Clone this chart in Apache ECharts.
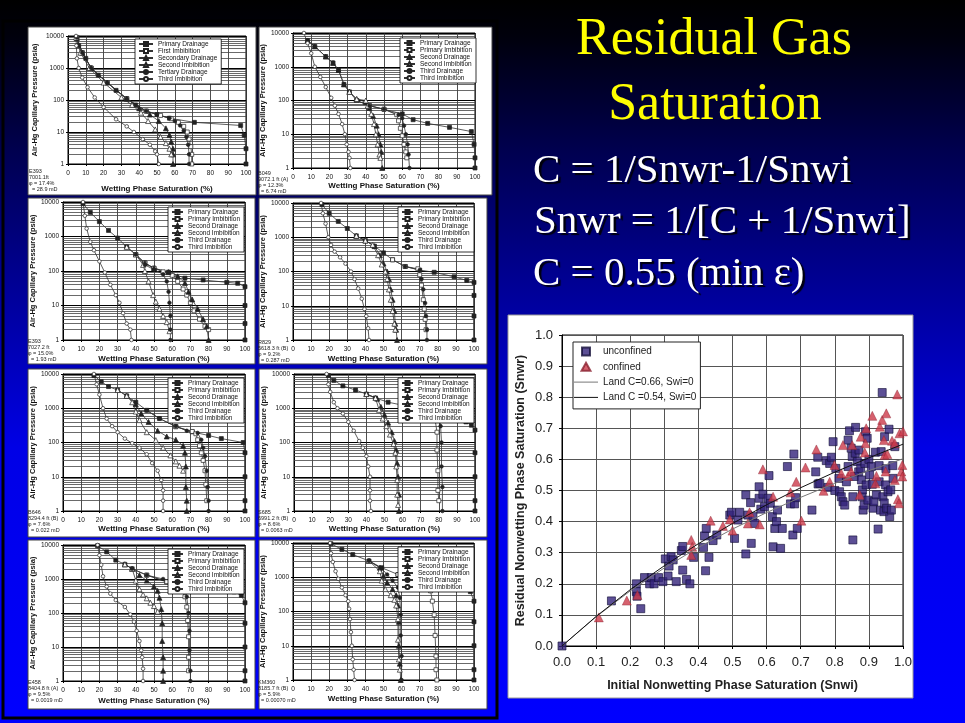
<!DOCTYPE html>
<html>
<head>
<meta charset="utf-8">
<title>Residual Gas Saturation</title>
<script src="https://cdn.jsdelivr.net/npm/echarts/dist/echarts.min.js"></script>
<style>
  html, body { margin: 0; padding: 0; }
  #slide {
    width: 965px; height: 723px;
    background: linear-gradient(to bottom, #000000 0%, #00000c 5%, #000050 21%, #00008c 37%, #0000e6 62%, #0000ff 100%);
  }
</style>
</head>
<body>
<div id="slide"></div>
<script>
// capillary pressure curves: [wetting phase saturation %, Pc psia]
// E393 7001.1 ft
const c1PD = [[5,9000],[6,5000],[8,3000],[10,2000],[13,1000],[17,600],[22,350],[27,200],[33,110],[38,70],[44,45],[50,35],[57,27],[71,20],[97,16],[99,8],[100,3],[100,1]];
const c1PI = [[5,9000],[8,3000],[13,1000],[22,350],[33,110],[44,45],[52,33],[58,26],[62,20],[65,15],[67,10],[68,6],[69,3.5],[69.5,2],[69.5,1]];
const c1SD = [[5,8500],[8,3000],[13,1000],[22,350],[33,110],[40,55],[46,35],[51,22],[55,13],[57,8],[58,5],[59,3],[59,2],[59,1]];
const c1SI = [[4.5,9000],[7,3000],[12,1000],[20,350],[30,120],[36,70],[41,40],[45,22],[49,12],[52,7],[55,4.5],[57,3],[58,2]];
const c1TD = [[5,9000],[8,3000],[13,1000],[22,350],[33,110],[44,45],[50,35],[57,27],[60,22],[63,16],[65,11],[66.5,7],[67.5,4],[68,2],[68,1]];
const c1TI = [[4.5,10000],[4.7,5000],[5,2000],[6,1000],[8,500],[11,250],[15,120],[20,60],[27,25],[33,15],[37,10],[42,6],[46,4],[49,2.5],[50,2],[51,1]];
// B049 9072.1 ft
const c2PD = [[8,6000],[12,4000],[18,2000],[22,1300],[25,800],[28,300],[31,180],[35,100],[42,70],[50,55],[60,40],[66,27],[74,21],[86,16],[98,12],[99.5,5],[100,2],[100,1]];
const c2PI = [[35,100],[42,70],[50,55],[57,38],[58,25],[59,15],[60,9],[61,5],[62,3],[62.5,2]];
const c2SD = [[8,6000],[12,4000],[18,2000],[22,1300],[25,800],[28,300],[31,180],[35,110],[40,90],[42,60],[44,35],[46,18],[47,10],[48,5],[48.5,3],[49,1]];
const c2SI = [[31,180],[35,110],[40,100],[41,70],[43,40],[44.5,20],[45.5,10],[46.5,5],[47.5,2.5],[48,2]];
const c2TD = [[42,70],[50,55],[58,38],[60,30],[61,18],[62,10],[63,5],[63.5,2.5],[64,1]];
const c2TI = [[6,10000],[8,5000],[10,2500],[12,1000],[15,500],[18,250],[21,120],[23,70],[25,40],[27,20],[28.5,10],[29.5,5],[30.5,3],[31,2],[31.5,1]];
// E393 7027.2 ft
const c3PD = [[11,9000],[15,5000],[20,2700],[25,1500],[30,900],[35,500],[40,300],[45,170],[50,120],[58,93],[67,62],[77,55],[90,47],[96,44],[100,35],[100,10],[100,3],[100,1]];
const c3PI = [[40,300],[45,170],[50,120],[55,95],[60,75],[63,50],[66,30],[68,20],[70,12],[72,7],[75,4],[78,2.5],[80,2]];
const c3SD = [[45,170],[50,120],[58,93],[63,70],[67,45],[69,25],[71,15],[74,8],[77,4],[79,2.5],[80,1]];
const c3SI = [[35,500],[40,300],[44,150],[45,100],[47,50],[49.5,20],[51,13],[53,8],[55,5],[57,3.3],[58.5,1.8]];
const c3TD = [[40,300],[45,150],[50,110],[55,80],[57,50],[58,25],[58.5,12],[59,5],[59,2],[59,1]];
const c3TI = [[11,10000],[12,4000],[13,1700],[15,700],[17,400],[20,190],[23,90],[26,40],[29,20],[31,12],[33,6],[35,3],[37,2],[37.6,1]];
// R829 5618.3 ft
const c4PD = [[16,9000],[20,5000],[25,2900],[30,1800],[35,1100],[40,800],[45,550],[50,350],[55,220],[62,140],[70,110],[78,95],[89,70],[96,55],[100,48],[100,20],[100,5],[100,1]];
const c4PI = [[55,220],[62,140],[69,120],[70,80],[71,40],[72,15],[72.5,8],[73,4],[73.5,2]];
const c4SD = [[35,1100],[40,800],[45,550],[48,300],[50,170],[52,100],[53,60],[54,30],[55,15],[56,7],[56.5,3],[57,2],[57.5,1]];
const c4SI = [[35,1100],[40,800],[44,600],[47,300],[49,160],[51,100],[52,60],[53,30],[54,15],[55,7],[56,3],[56.5,2]];
const c4TD = [[62,140],[70,110],[71,60],[72,30],[73,12],[73.5,5],[74,2],[74,1]];
const c4TI = [[15.5,10000],[16.5,5000],[18,2500],[19.5,1000],[21,600],[23,380],[26,260],[29,170],[32,100],[34,60],[36,32],[38,16],[39.5,8],[40.5,5],[41.5,2.2],[42,1]];
// B646 8294.4 ft
const c5PD = [[17,9000],[21,6000],[25,4300],[30,3400],[35,2300],[40,1500],[46,870],[53,500],[62,290],[71,205],[80,160],[87,130],[99,100],[100,50],[100,10],[100,2],[100,1]];
const c5PI = [[62,290],[71,210],[73,180],[74,120],[75,80],[76,50],[77,30],[78,15],[78.5,6],[79,2]];
const c5SD = [[35,2300],[40,1300],[43,700],[47,400],[52,220],[57,150],[62,120],[66,80],[67,50],[67.5,20],[67.5,5],[68,2],[68,1]];
const c5SI = [[30,3400],[35,2300],[38,1500],[40,800],[42,450],[46,200],[51,117],[55,70],[59,42],[62,28],[64,21],[66,15]];
const c5TD = [[46,870],[53,500],[62,300],[68,220],[74,190],[76,120],[77,70],[78,40],[79,15],[79.5,5],[80,2],[80,1]];
const c5TI = [[17,10000],[18.5,5000],[20,2500],[22,1000],[24,500],[27,300],[30,200],[34,130],[38,95],[42,70],[46,45],[49,25],[52,15],[54,8],[55,4],[55,2],[55,1]];
// S685 6991.2 ft
const c6PD = [[19,9000],[22,6500],[27,4500],[34,3400],[40,2600],[45,2000],[52,1500],[61,1200],[70,900],[80,650],[89,500],[95,400],[98,320],[100,230],[100,50],[100,10],[100,2],[100,1]];
const c6PI = [[61,1200],[70,900],[76,700],[78,450],[79,200],[79,60],[79.5,15],[79.5,4],[80,2]];
const c6SD = [[40,2600],[46,1900],[48,1100],[50,650],[52,380],[54,200],[55.5,110],[56.5,60],[57,25],[57.5,10],[58,3],[58,1]];
const c6SI = [[40,2600],[45,2000],[47,900],[49,500],[51,300],[53,170],[55,90],[56,50],[56.5,20],[57,8],[57,3],[57.5,1.5]];
const c6TD = [[70,900],[80,650],[81,300],[81.5,100],[81.5,20],[82,5],[82,1]];
const c6TI = [[18,10000],[19,5000],[20,3000],[22,1500],[24,1000],[27,700],[30,400],[33,220],[36,110],[38,70],[40,40],[41,20],[42,10],[42,4],[42,2],[42.5,1]];
// E458 8404.8 ft
const c7PD = [[19,9500],[24,6300],[29,3600],[34,2700],[38,2000],[46,1300],[57,830],[64,660],[73,530],[83,470],[94,420],[98,330],[100,200],[100,50],[100,10],[100,2],[100,1]];
const c7PI = [[46,1300],[57,830],[62,700],[65,500],[67,300],[68,150],[68.5,60],[69,20],[69,5],[69,2]];
const c7SD = [[34,2700],[38,2000],[42,1300],[46,900],[50,600],[52,450],[53,280],[54,130],[54.5,50],[54.5,15],[55,5],[55,2],[55,1]];
const c7SI = [[34,2700],[38,2000],[40,900],[42,500],[44,350],[46,270],[48,200],[50,160],[52,110]];
const c7TD = [[38,2000],[46,1300],[55,1000],[62,800],[66,600],[68,300],[69,100],[69.5,30],[69.5,8],[70,2],[70,1]];
const c7TI = [[19,10000],[20,5000],[21,2600],[22,1200],[24,600],[26,370],[29,240],[34,150],[37,90],[39,55],[40.5,30],[42,15],[43,8],[43.5,5],[44,2.3],[44,1]];
// KM360 8185.7 ft
const c8PD = [[21,9500],[27,6500],[33,4600],[42,3000],[49,1900],[58,1200],[71,850],[80,670],[91,480],[98,380],[100,200],[100,50],[100,10],[100,2],[100,1]];
const c8PI = [[58,1200],[71,850],[74,650],[76,400],[77,200],[78,80],[78.5,20],[79,5],[79,2],[79.5,1]];
const c8SD = [[42,3000],[48,1900],[50,1100],[52,700],[55,450],[57,300],[58,150],[58.5,50],[58.5,10],[59,3],[59.5,1]];
const c8SI = [[42,3000],[48,1500],[49,800],[51,450],[54,300],[56,220],[57,150],[58,60],[58,15],[58.5,4],[59,2]];
const c8TD = [[42,3000],[49,1800],[52,1200],[55,800],[58,500],[59,250],[59.5,80],[59.5,20],[60,5],[60,1]];
const c8TI = [[20.5,10000],[21,5000],[22,2800],[23.5,1500],[25,900],[27,500],[29,300],[30.5,200],[31,120],[31.5,60],[32,25],[32.5,10],[33,4],[33.5,2],[34,1]];

// minor gridline levels on the log pressure axis
const minorLevels = [2,3,4,5,6,7,8,9,20,30,40,50,60,70,80,90,200,300,400,500,600,700,800,900,2000,3000,4000,5000,6000,7000,8000,9000];

const sampleInfo = [
  ['E393', '7001.1ft', 'φ = 17.4%', '  = 28.9 mD'],
  ['B049', '9072.1 ft (A)', 'φ = 12.3%', '  = 6.74 mD'],
  ['E393', '7027.2 ft', 'φ = 15.0%', '  = 1.93 mD'],
  ['R829', '5618.3 ft (B)', 'φ = 9.2%', '  = 0.287 mD'],
  ['B646', '8294.4 ft (B)', 'φ = 7.6%', '  = 0.022 mD'],
  ['S685', '6991.2 ft (B)', 'φ = 8.6%', '  = 0.0063 mD'],
  ['E458', '8404.8 ft (A)', 'φ = 9.5%', '  = 0.0019 mD'],
  ['KM360', '8185.7 ft (B)', 'φ = 5.9%', '  = 0.00070 mD']
];
const namesFirst = ['Primary Drainage', 'First Imbibition', 'Secondary Drainage', 'Second Imbibition', 'Tertiary Drainage', 'Third Imbibition'];
const namesOther = ['Primary Drainage', 'Primary Imbibition', 'Second Drainage', 'Second Imbibition', 'Third Drainage', 'Third Imbibition'];

// residual vs initial nonwetting saturation
const unconfined = [[0,0],[0.145,0.145],[0.218,0.2],[0.218,0.175],[0.22,0.16],[0.231,0.12],[0.242,0.22],[0.257,0.2],[0.262,0.22],[0.27,0.2],[0.283,0.22],[0.296,0.207],[0.303,0.28],[0.311,0.225],[0.314,0.257],[0.32,0.287],[0.326,0.277],[0.335,0.207],[0.35,0.307],[0.354,0.32],[0.354,0.244],[0.365,0.214],[0.375,0.2],[0.386,0.285],[0.415,0.317],[0.418,0.354],[0.423,0.378],[0.421,0.242],[0.431,0.285],[0.443,0.339],[0.454,0.357],[0.492,0.421],[0.497,0.43],[0.506,0.346],[0.516,0.405],[0.521,0.43],[0.539,0.296],[0.539,0.486],[0.545,0.421],[0.553,0.461],[0.555,0.33],[0.56,0.416],[0.565,0.394],[0.578,0.512],[0.578,0.475],[0.583,0.44],[0.589,0.488],[0.594,0.448],[0.604,0.475],[0.607,0.548],[0.611,0.459],[0.617,0.416],[0.619,0.319],[0.624,0.378],[0.629,0.4],[0.632,0.437],[0.641,0.314],[0.646,0.378],[0.661,0.577],[0.67,0.457],[0.677,0.357],[0.68,0.617],[0.682,0.457],[0.685,0.477],[0.69,0.378],[0.733,0.437],[0.744,0.56],[0.75,0.607],[0.751,0.521],[0.756,0.523],[0.775,0.596],[0.78,0.51],[0.785,0.587],[0.79,0.607],[0.795,0.657],[0.8,0.5],[0.803,0.571],[0.812,0.539],[0.814,0.496],[0.819,0.48],[0.824,0.464],[0.829,0.453],[0.834,0.528],[0.839,0.577],[0.839,0.662],[0.843,0.692],[0.848,0.636],[0.851,0.609],[0.853,0.341],[0.853,0.48],[0.858,0.545],[0.86,0.62],[0.861,0.703],[0.866,0.593],[0.87,0.56],[0.871,0.63],[0.876,0.571],[0.878,0.534],[0.88,0.48],[0.881,0.502],[0.883,0.437],[0.886,0.453],[0.888,0.587],[0.89,0.689],[0.892,0.518],[0.895,0.668],[0.897,0.469],[0.9,0.6],[0.902,0.55],[0.907,0.577],[0.91,0.52],[0.912,0.443],[0.915,0.464],[0.919,0.623],[0.922,0.486],[0.927,0.376],[0.93,0.528],[0.93,0.58],[0.934,0.437],[0.936,0.625],[0.939,0.815],[0.941,0.48],[0.944,0.432],[0.945,0.46],[0.946,0.673],[0.949,0.518],[0.95,0.57],[0.952,0.443],[0.956,0.496],[0.959,0.697],[0.961,0.416],[0.964,0.502],[0.966,0.437],[0.97,0.58],[0.971,0.539],[0.976,0.641]];
const confined = [[0.108,0.092],[0.19,0.146],[0.221,0.164],[0.379,0.341],[0.382,0.319],[0.379,0.293],[0.436,0.403],[0.472,0.386],[0.492,0.407],[0.5,0.371],[0.545,0.394],[0.55,0.43],[0.58,0.391],[0.589,0.568],[0.619,0.48],[0.67,0.494],[0.687,0.528],[0.702,0.403],[0.714,0.574],[0.746,0.632],[0.767,0.499],[0.785,0.528],[0.799,0.582],[0.819,0.555],[0.824,0.646],[0.839,0.547],[0.848,0.561],[0.851,0.646],[0.873,0.486],[0.876,0.673],[0.888,0.622],[0.89,0.652],[0.892,0.7],[0.91,0.74],[0.919,0.523],[0.922,0.547],[0.932,0.705],[0.939,0.727],[0.944,0.662],[0.946,0.614],[0.951,0.748],[0.954,0.617],[0.949,0.561],[0.968,0.66],[0.976,0.534],[0.976,0.652],[0.983,0.809],[0.985,0.472],[0.988,0.459],[0.99,0.684],[0.995,0.561],[0.998,0.582],[0.998,0.545],[1.0,0.69]];
const snwi = [0, 0.1, 0.2, 0.3, 0.4, 0.5, 0.6, 0.7, 0.8, 0.9, 1.0];
const landC066 = [0, 0.094, 0.177, 0.251, 0.317, 0.376, 0.429, 0.478, 0.523, 0.564, 0.602];
const landC054 = [0, 0.095, 0.181, 0.258, 0.329, 0.394, 0.454, 0.509, 0.559, 0.605, 0.649];

const smallCurves = [
  [c1PD, c1PI, c1SD, c1SI, c1TD, c1TI],
  [c2PD, c2PI, c2SD, c2SI, c2TD, c2TI],
  [c3PD, c3PI, c3SD, c3SI, c3TD, c3TI],
  [c4PD, c4PI, c4SD, c4SI, c4TD, c4TI],
  [c5PD, c5PI, c5SD, c5SI, c5TD, c5TI],
  [c6PD, c6PI, c6SD, c6SI, c6TD, c6TI],
  [c7PD, c7PI, c7SD, c7SI, c7TD, c7TI],
  [c8PD, c8PI, c8SD, c8SI, c8TD, c8TI]
];

// layout of the small panels: plot area [left, top, right, bottom]
const plots = [[68,36,246,164],[293,33,475,168],[63,202,245,340],[293,203,474,340],[63,374,245,511],[294,374,475,511],[63,545,245,681],[293,543,474,680]];
const panels = [[28,27,256,195],[259,27,492,195],[28,198,255,364],[259,198,487,364],[28,369,255,537],[259,369,487,537],[28,540,255,709],[259,540,487,709]];
const legendPos = [[135,39],[400,38],[168,207],[398,207],[168,378],[398,378],[168,549],[398,547]];
const infoPos = [[29,168],[258,170],[28,338],[258,339],[28,509],[258,509],[28,679],[258,679]];
const yNameGap = [29,22,26,21,26,23,26,24];
const xNameGap = [21,13,15,15,14,14,16,15];

const markers = [
  {symbol: 'rect', size: 4, fill: '#222'},
  {symbol: 'rect', size: 4, fill: '#fff'},
  {symbol: 'triangle', size: 5, fill: '#222'},
  {symbol: 'triangle', size: 5, fill: '#fff'},
  {symbol: 'circle', size: 3.6, fill: '#222'},
  {symbol: 'circle', size: 3.6, fill: '#fff'}
];

const font = 'Liberation Sans';
const grid = [], xAxis = [], yAxis = [], legend = [], series = [], graphic = [];

plots.forEach(function (p, i) {
  grid.push({
    left: p[0], top: p[1], width: p[2] - p[0], height: p[3] - p[1],
    show: true, backgroundColor: '#fff', borderColor: '#000', borderWidth: 1
  });
  xAxis.push({
    type: 'value', gridIndex: i, min: 0, max: 100, interval: 10,
    name: 'Wetting Phase Saturation (%)', nameLocation: 'middle', nameGap: xNameGap[i],
    nameTextStyle: {fontFamily: font, fontSize: 8, fontWeight: 'bold', color: '#111'},
    axisLine: {show: true, lineStyle: {color: '#000', width: 1}},
    axisTick: {show: true, length: 2, lineStyle: {color: '#000'}},
    axisLabel: {fontFamily: font, fontSize: 6.5, color: '#111', margin: 6},
    splitLine: {show: true, lineStyle: {color: '#222', width: 0.8}}
  });
  yAxis.push({
    type: 'log', logBase: 10, gridIndex: i, min: 1, max: 10000,
    name: 'Air-Hg Capillary Pressure (psia)', nameLocation: 'middle', nameGap: yNameGap[i],
    nameTextStyle: {fontFamily: font, fontSize: 7.5, fontWeight: 'bold', color: '#111'},
    axisLine: {show: true, lineStyle: {color: '#000', width: 1}},
    axisTick: {show: true, length: 2, lineStyle: {color: '#000'}},
    axisLabel: {fontFamily: font, fontSize: 6.5, color: '#111', margin: 4,
      formatter: function (v) { return String(Math.round(v)); }},
    splitLine: {show: true, lineStyle: {color: '#000', width: 1}}
  });
  const names = i === 0 ? namesFirst : namesOther;
  legend.push({
    left: legendPos[i][0], top: legendPos[i][1], orient: 'vertical', data: names,
    backgroundColor: '#fff', borderColor: '#000', borderWidth: 0.8,
    padding: [1.5, 4, 1.5, 3], itemGap: 0, itemWidth: i === 0 ? 14 : 11, itemHeight: 5,
    textStyle: {fontFamily: font, fontSize: 6.5, lineHeight: 6.2, color: '#111'},
    selectedMode: false
  });
  smallCurves[i].forEach(function (pts, k) {
    const s = {
      type: 'line', name: names[k], xAxisIndex: i, yAxisIndex: i, data: pts,
      symbol: markers[k].symbol, symbolSize: markers[k].size, showSymbol: true,
      lineStyle: {color: '#333', width: 0.8},
      itemStyle: {color: markers[k].fill, borderColor: '#222', borderWidth: 0.7},
      z: 3
    };
    if (k === 0) {
      s.markLine = {
        silent: true, symbol: 'none', z: 1, animation: false,
        label: {show: false},
        lineStyle: {color: '#444', width: 0.8, type: 'solid'},
        emphasis: {disabled: true},
        data: minorLevels.map(function (v) { return {yAxis: v}; })
      };
    }
    series.push(s);
  });
  const b = panels[i];
  graphic.push({
    type: 'rect', z: -10,
    shape: {x: b[0], y: b[1], width: b[2] - b[0], height: b[3] - b[1]},
    style: {fill: '#fff', stroke: '#444', lineWidth: 1}
  });
  graphic.push({
    type: 'text', z: 20, x: infoPos[i][0], y: infoPos[i][1],
    style: {text: sampleInfo[i].join('\n'), font: '5.5px "Liberation Sans"', fill: '#222', lineHeight: 6.2}
  });
});

// scatter chart
grid.push({left: 562, top: 335, width: 341, height: 311, show: true, backgroundColor: '#fff', borderColor: '#000', borderWidth: 1});
xAxis.push({
  type: 'value', gridIndex: 8, min: 0, max: 1, interval: 0.1,
  name: 'Initial Nonwetting Phase Saturation (Snwi)', nameLocation: 'middle', nameGap: 33,
  nameTextStyle: {fontFamily: font, fontSize: 12.5, fontWeight: 'bold', color: '#222'},
  axisLine: {show: true, lineStyle: {color: '#000'}},
  axisTick: {show: true, length: 3, lineStyle: {color: '#000'}},
  axisLabel: {fontFamily: font, fontSize: 13, color: '#222', margin: 10, formatter: function (v) { return v.toFixed(1); }},
  splitLine: {show: true, lineStyle: {color: '#555', width: 1}}
});
yAxis.push({
  type: 'value', gridIndex: 8, min: 0, max: 1, interval: 0.1,
  name: 'Residual Nonwetting Phase Saturation (Snwr)', nameLocation: 'middle', nameGap: 35,
  nameTextStyle: {fontFamily: font, fontSize: 12.5, fontWeight: 'bold', color: '#222'},
  axisLine: {show: true, lineStyle: {color: '#000'}},
  axisTick: {show: true, length: 3, lineStyle: {color: '#000'}},
  axisLabel: {fontFamily: font, fontSize: 13, color: '#222', margin: 9, formatter: function (v) { return v.toFixed(1); }},
  splitLine: {show: true, lineStyle: {color: '#555', width: 1}}
});
series.push({
  type: 'scatter', name: 'unconfined', xAxisIndex: 8, yAxisIndex: 8, data: unconfined,
  symbol: 'rect', symbolSize: 8,
  itemStyle: {color: '#33237a', borderColor: '#15103a', borderWidth: 0.8}, z: 3
});
series.push({
  type: 'scatter', name: 'confined', xAxisIndex: 8, yAxisIndex: 8, data: confined,
  symbol: 'triangle', symbolSize: 9,
  itemStyle: {color: '#cc3a4a', borderColor: '#8a2030', borderWidth: 0.5}, z: 4
});
series.push({
  type: 'line', name: 'Land C=0.66, Swi=0', xAxisIndex: 8, yAxisIndex: 8,
  data: snwi.map(function (x, i) { return [x, landC066[i]]; }),
  symbol: 'none', lineStyle: {color: '#777', width: 1}, itemStyle: {color: '#777'}, z: 5
});
series.push({
  type: 'line', name: 'Land C =0.54, Swi=0', xAxisIndex: 8, yAxisIndex: 8,
  data: snwi.map(function (x, i) { return [x, landC054[i]]; }),
  symbol: 'none', lineStyle: {color: '#111', width: 1}, itemStyle: {color: '#111'}, z: 5
});
legend.push({
  left: 573, top: 342, orient: 'vertical',
  data: [
    {name: 'unconfined', icon: 'path://M0,0L10,0L10,10L0,10Z'},
    {name: 'confined', icon: 'path://M5,0L10,9L0,9Z'},
    {name: 'Land C=0.66, Swi=0', icon: 'path://M0,0L48,0L48,2L0,2Z'},
    {name: 'Land C =0.54, Swi=0', icon: 'path://M0,0L48,0L48,2L0,2Z'}
  ],
  backgroundColor: '#fff', borderColor: '#222', borderWidth: 1,
  padding: [3, 4, 5, 1], itemWidth: 24, itemHeight: 8, itemGap: 2.3,
  textStyle: {fontFamily: font, fontSize: 10, lineHeight: 13, color: '#222'},
  selectedMode: false
});

// slide decoration and text
graphic.push({type: 'rect', z: -12, shape: {x: 3, y: 21, width: 494, height: 697}, style: {fill: 'none', stroke: '#000', lineWidth: 3}});
graphic.push({type: 'rect', z: -10, shape: {x: 508, y: 315, width: 405, height: 383}, style: {fill: '#fff', stroke: '#999', lineWidth: 1}});
function slideText(txt, x, y, size, color, align, shadow) {
  const st = {
    text: txt, font: size + 'px "Liberation Serif"', fill: color,
    align: align, textAlign: align, verticalAlign: 'middle', textVerticalAlign: 'middle'
  };
  if (shadow) {
    st.textShadowColor = 'rgba(0,0,0,0.9)';
    st.textShadowOffsetX = 2.5;
    st.textShadowOffsetY = 2.5;
    st.textShadowBlur = 1;
  }
  return {type: 'text', z: 30, x: x, y: y, style: st};
}
graphic.push(slideText('Residual Gas', 714, 40, 52, '#ffff00', 'center', false));
graphic.push(slideText('Saturation', 715, 105, 52, '#ffff00', 'center', false));
graphic.push(slideText('C = 1/Snwr-1/Snwi', 533, 171, 41, '#ffffff', 'left', true));
graphic.push(slideText('Snwr = 1/[C + 1/Snwi]', 534, 222, 41, '#ffffff', 'left', true));
graphic.push(slideText('C = 0.55 (min ε)', 533, 274, 41, '#ffffff', 'left', true));

const myChart = echarts.init(document.getElementById('slide'));
myChart.setOption({
  animation: false,
  backgroundColor: 'transparent',
  grid: grid,
  xAxis: xAxis,
  yAxis: yAxis,
  legend: legend,
  series: series,
  graphic: graphic
});
window.onresize = function () { myChart.resize(); };
</script>
</body>
</html>
